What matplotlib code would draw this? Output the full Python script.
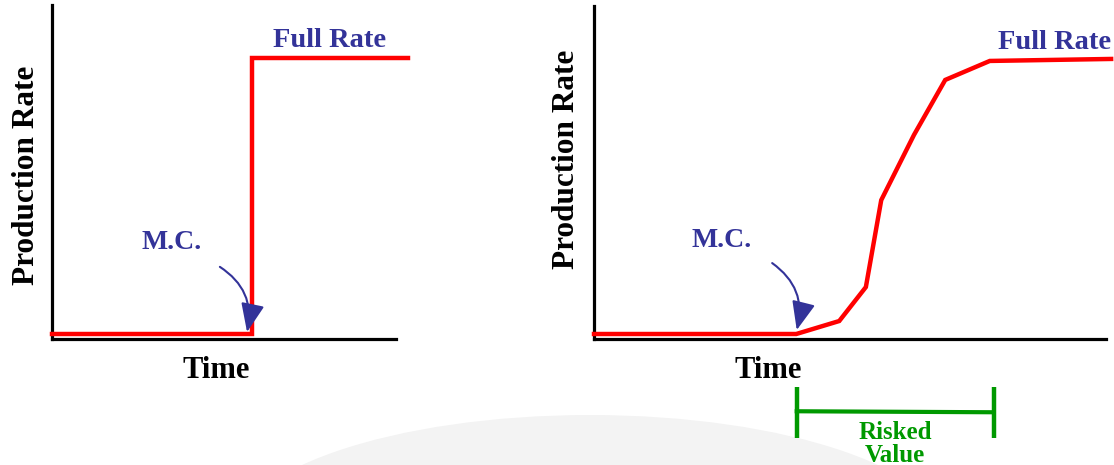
import matplotlib
matplotlib.use("Agg")
import matplotlib.pyplot as plt
from matplotlib.patches import FancyArrowPatch, Ellipse

# ---- data ----
left_time = [0.0, 5.8, 5.8, 10.35]
left_rate = [0.15, 0.15, 8.4, 8.4]
right_time = [0.0, 3.95, 4.79, 5.31, 5.61, 6.25, 6.86, 7.73, 10.1]
right_rate = [0.15, 0.15, 0.54, 1.56, 4.17, 6.13, 7.78, 8.35, 8.41]
risk_window = [3.96, 7.81]
x_label = "Time"
y_label = "Production Rate"
full_label = "Full Rate"
mc_label = "M.C."
risk_label = "Risked\nValue"

W, H = 1114, 465
plt.rcParams['font.family'] = ['Liberation Serif', 'DejaVu Serif']
fig = plt.figure(figsize=(W / 100, H / 100), dpi=100)
fig.patch.set_facecolor("white")

# faint background swoosh
fig.patches.append(Ellipse((590 / W, 1 - 540 / H), 720 / W, 250 / H,
                           transform=fig.transFigure, facecolor="#f3f3f3",
                           edgecolor="none", zorder=-10))

RED = "#ff0000"
BLUE = "#333399"
GREEN = "#009900"


def setup(ax):
    ax.set_xlim(0, 10)
    ax.set_ylim(0, 10)
    ax.patch.set_alpha(0)
    for s in ("top", "right"):
        ax.spines[s].set_visible(False)
    for s in ("left", "bottom"):
        ax.spines[s].set_linewidth(2.3)
        ax.spines[s].set_color("black")
    ax.set_xticks([])
    ax.set_yticks([])


def arrow(ax, start, end):
    a = FancyArrowPatch(start, end, transform=ax.transData,
                        connectionstyle="arc3,rad=-0.34",
                        arrowstyle="-|>,head_length=0.8,head_width=0.33",
                        mutation_scale=22, color=BLUE, lw=1.5,
                        shrinkA=0, shrinkB=0, clip_on=False, zorder=5)
    ax.add_patch(a)


# ---- left panel ----
axL = fig.add_axes([52 / W, 126 / H, 344 / W, 334 / H])
setup(axL)
axL.plot(left_time, left_rate, color=RED, lw=3.2, clip_on=False,
         solid_joinstyle="miter", zorder=3)
axL.set_ylabel(y_label, fontsize=22.5, fontweight="bold")
axL.yaxis.set_label_coords(-0.033, 0.49)
axL.set_xlabel(x_label, fontsize=22, fontweight="bold")
axL.xaxis.set_label_coords(0.477, -0.052)
axL.text(8.08, 8.95, full_label, color=BLUE, fontsize=20.5,
         fontweight="bold", ha="center", va="center")
axL.text(3.49, 2.9, mc_label, color=BLUE, fontsize=20,
         fontweight="bold", ha="center", va="center")
arrow(axL, (4.88, 2.16), (5.67, 0.21))

# ---- right panel ----
axR = fig.add_axes([594 / W, 126 / H, 512 / W, 333 / H])
setup(axR)
axR.plot(right_time, right_rate, color=RED, lw=3.2, clip_on=False,
         solid_joinstyle="miter", zorder=3)
axR.set_ylabel(y_label, fontsize=22.5, fontweight="bold")
axR.yaxis.set_label_coords(-0.025, 0.54)
axR.set_xlabel(x_label, fontsize=22, fontweight="bold")
axR.xaxis.set_label_coords(0.34, -0.052)
axR.text(9.0, 8.89, full_label, color=BLUE, fontsize=20.5,
         fontweight="bold", ha="center", va="center", clip_on=False)
axR.text(2.5, 2.97, mc_label, color=BLUE, fontsize=20,
         fontweight="bold", ha="center", va="center")
arrow(axR, (3.48, 2.28), (3.96, 0.27))

# risked value bracket
x0, x1 = risk_window
for xv in risk_window:
    axR.plot([xv, xv], [-1.44, -2.97], color=GREEN, lw=3.2,
             clip_on=False, solid_capstyle="butt")
axR.plot([x0, x1], [-2.17, -2.2], color=GREEN, lw=3.0, clip_on=False)
axR.text((x0 + x1) / 2, -3.15, risk_label, color=GREEN, fontsize=18,
         fontweight="bold", ha="center", va="center", linespacing=1.0,
         clip_on=False)

fig.savefig("out.png", dpi=100, facecolor="white")
